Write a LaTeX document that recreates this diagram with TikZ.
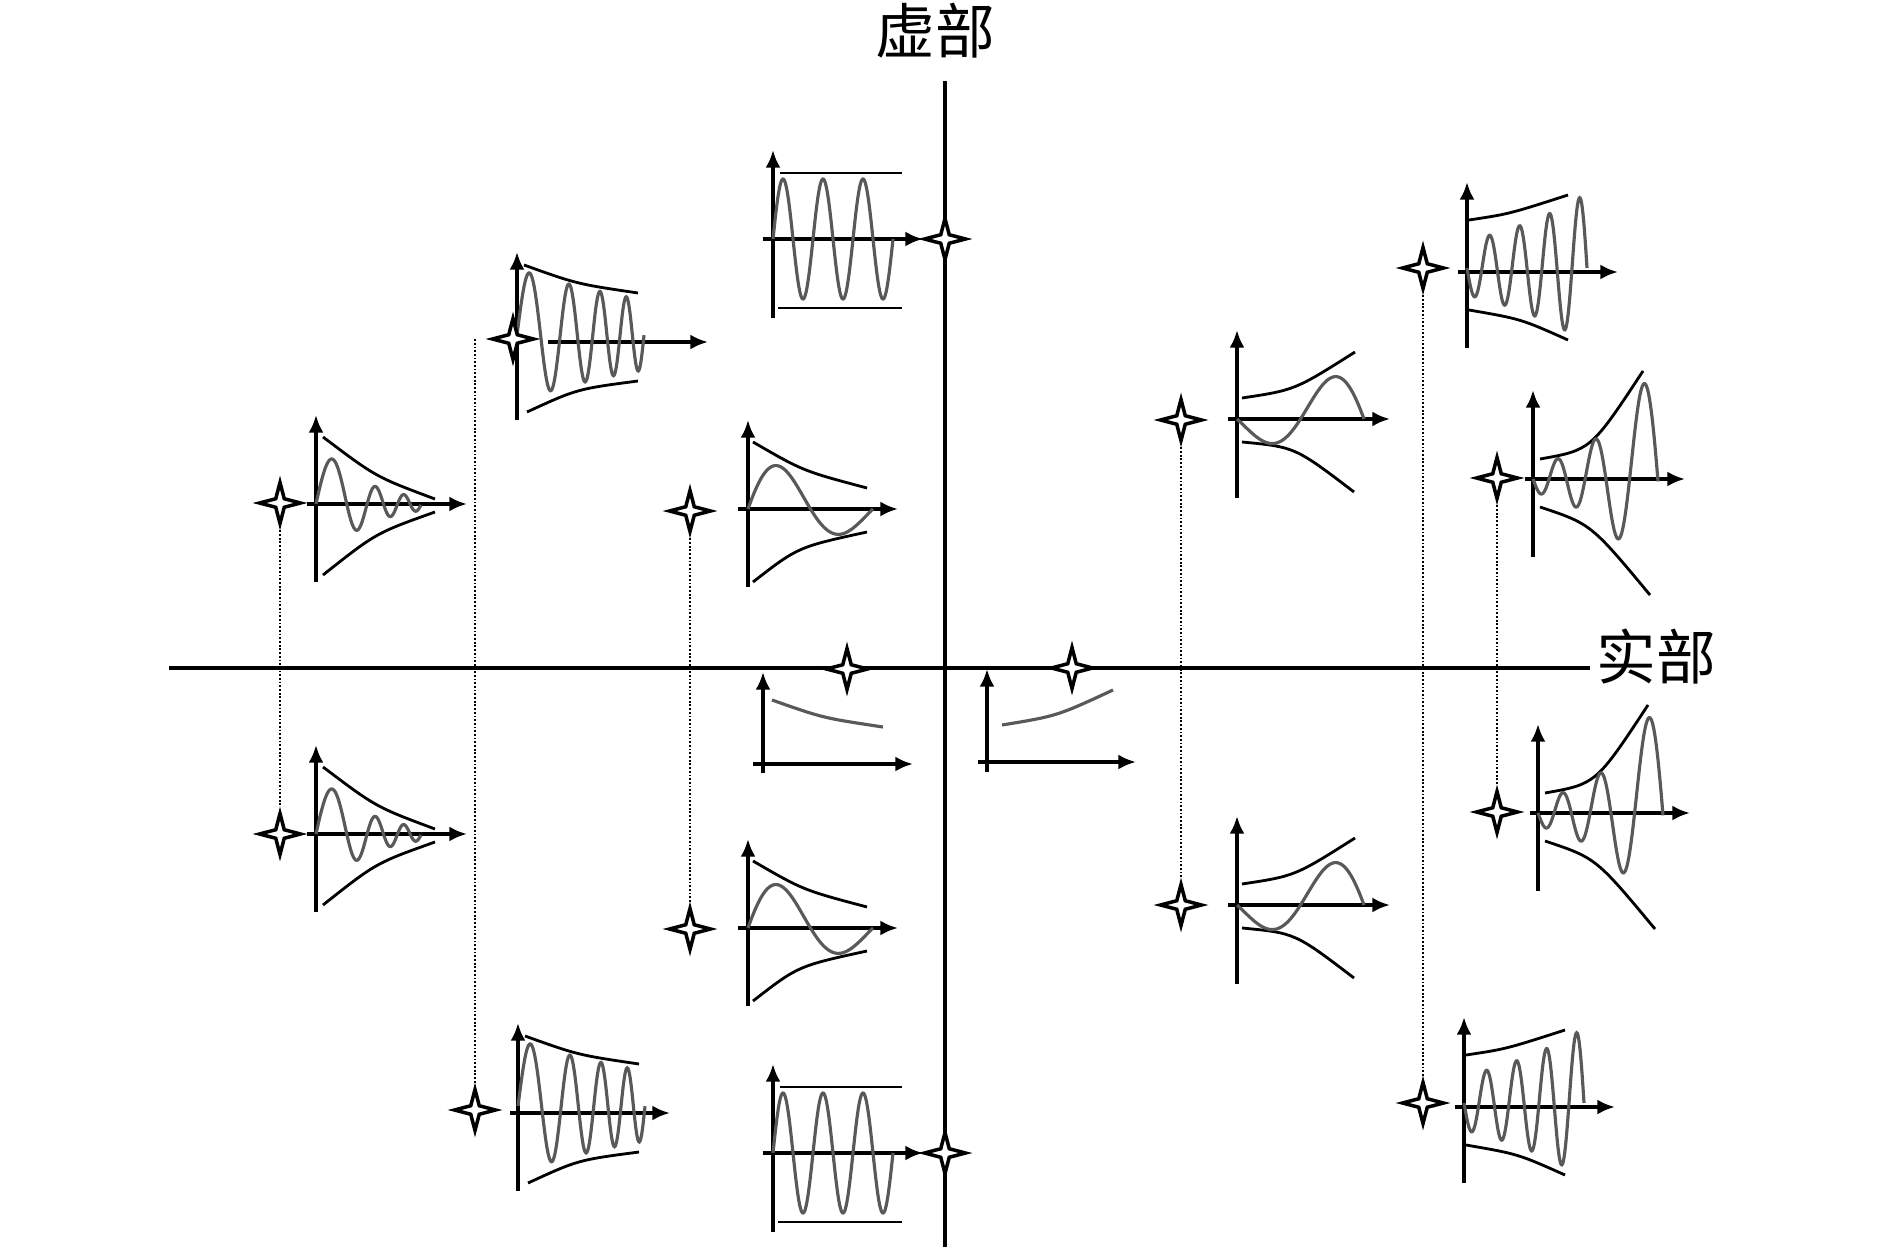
\documentclass[tikz,border=0pt]{standalone}
\usepackage{fontspec}
\newfontfamily\cjk{Noto Sans CJK SC}
\usetikzlibrary{shapes.geometric, arrows.meta}

\begin{document}
\begin{tikzpicture}[x=0.02cm, y=-0.02cm,%
  axisline/.style={line width=1.8pt},%
  ax/.style={line width=2.2pt, -{Latex[length=10pt,width=8.5pt]}},%
  env/.style={line width=1.6pt},%
  wave/.style={line width=1.8pt, draw=black!65},%
  pole/.style={star, star points=4, star point ratio=3.4, draw, line width=2pt, fill=white, minimum size=0.82cm, inner sep=0pt},%
  link/.style={line width=1pt, dash pattern=on 1pt off 1.1pt},%
  lbl/.style={font=\cjk\fontsize{34}{34}\selectfont}%
]
  \useasboundingbox (0,0) rectangle (1889,1253);
  % Achsen
  \node[lbl] (imlab) at (935,31) {虚部};
  \node[lbl] (relab) at (1656,657) {实部};
  \coordinate (reorg) at (169,668);
  \coordinate (imtop) at (945,81);
  \coordinate (imorg) at (945,1247);
  \draw[axisline] (reorg) -- (reorg -| relab.west);
  \draw[axisline] (imtop) -- (imorg);
  % links, stark gedaempft
  \foreach \oy in {504,834} {
    \begin{scope}[shift={(316,\oy)}, yscale=-1]
      \draw[ax] (0,-78) -- (0,89);
      \draw[ax] (-9,0) -- (151,0);
      \draw[env] (7,67) .. controls (60,27) .. (119,5);
      \draw[env] (7,-71) .. controls (60,-29) .. (119,-8);
      \draw[wave] plot[domain=0:105, samples=160, variable=\t] (\t, {65*exp(-0.022*\t)*sin(4.05*\t+0.0586*\t*\t)});
    \end{scope}
  }
  % links, schwach gedaempft
  \foreach \ox/\oy/\xs in {517/342/31, 518/1113/-8} {
    \begin{scope}[shift={(\ox,\oy)}, yscale=-1]
      \draw[ax] (0,-78) -- (0,90);
      \draw[ax] (\xs,0) -- (\xs+160,0);
      \draw[env] (7,77) .. controls (60,58) .. (121,49);
      \draw[env] (10,-70) .. controls (60,-47) .. (121,-39);
      \draw[wave] plot[domain=0:127, samples=180, variable=\t] (\t, {7+66*exp(-0.005*\t)*sin(6.79*\t+0.0358*\t*\t)});
    \end{scope}
  }
  % Mitte links
  \foreach \oy in {509,928} {
    \begin{scope}[shift={(748,\oy)}, yscale=-1]
      \draw[ax] (0,-78) -- (0,89);
      \draw[ax] (-10,0) -- (150,0);
      \draw[env] (5,67) .. controls (55,38) .. (119,21);
      \draw[env] (5,-73) .. controls (50,-38) .. (119,-23);
      \draw[wave] plot[domain=0:125, samples=120, variable=\t] (\t, {56*exp(-0.0086*\t)*sin(2.88*\t)});
    \end{scope}
  }
  % reelle Pole
  \begin{scope}[shift={(763,764)}, yscale=-1]
    \draw[ax] (0,-9) -- (0,92);
    \draw[ax] (-10,0) -- (150,0);
    \draw[wave] (9,64) .. controls (60,46) .. (120,37);
  \end{scope}
  \begin{scope}[shift={(987,762)}, yscale=-1]
    \draw[ax] (0,-10) -- (0,93);
    \draw[ax] (-9,0) -- (149,0);
    \draw[wave] (15,37) .. controls (70,46) .. (126,72);
  \end{scope}
  % imaginaere Achse
  \foreach \oy in {239,1153} {
    \begin{scope}[shift={(773,\oy)}, yscale=-1]
      \draw[ax] (0,-79) -- (0,89);
      \draw[ax] (-10,0) -- (150,0);
      \draw[env] (7,66) -- (129,66);
      \draw[env] (5,-69) -- (129,-69);
      \draw[wave] plot[domain=0:120, samples=160, variable=\t] (\t, {60*sin(9*\t)});
    \end{scope}
  }
  % rechts, instabil
  \foreach \oy in {419,905} {
    \begin{scope}[shift={(1237,\oy)}, yscale=-1]
      \draw[ax] (0,-79) -- (0,89);
      \draw[ax] (-9,0) -- (153,0);
      \draw[env] (5,21) .. controls (58,29) .. (118,67);
      \draw[env] (5,-23) .. controls (58,-28) .. (117,-73);
      \draw[wave] plot[domain=0:127, samples=120, variable=\t] (\t, {-18.4*exp(0.0086*\t)*sin(2.835*\t)});
    \end{scope}
  }
  \foreach \ox/\oy in {1467/272, 1464/1107} {
    \begin{scope}[shift={(\ox,\oy)}, yscale=-1]
      \draw[ax] (0,-76) -- (0,90);
      \draw[ax] (-9,0) -- (151,0);
      \draw[env] (2,52) .. controls (42,58) .. (101,77);
      \draw[env] (2,-38) .. controls (54,-47) .. (101,-68);
      \draw[wave] plot[domain=0:120, samples=180, variable=\t] (\t, {4-27*exp(0.0085*\t)*sin(12*\t)});
    \end{scope}
  }
  \foreach \ox/\oy in {1533/479, 1538/813} {
    \begin{scope}[shift={(\ox,\oy)}, yscale=-1]
      \draw[ax] (0,-78) -- (0,89);
      \draw[ax] (-8,0) -- (152,0);
      \draw[env] (7,20) .. controls (58,29) .. (110,108);
      \draw[env] (7,-28) .. controls (58,-45) .. (117,-116);
      \draw[wave] plot[domain=0:125, samples=180, variable=\t] (\t, {-13*exp(0.018*\t)*sin(11.59*\t-0.02353*\t*\t)});
    \end{scope}
  }
  % Pole
  \node[pole] (s1) at (280,503) {};
  \node[pole] (s2) at (280,834) {};
  \node[pole] (s3) at (513,339) {};
  \node[pole] (s4) at (475,1110) {};
  \node[pole] (s5) at (690,511) {};
  \node[pole] (s6) at (690,929) {};
  \node[pole] (s7) at (847,669) {};
  \node[pole] (s8) at (945,239) {};
  \node[pole] (s9) at (945,1153) {};
  \node[pole] (s10) at (1072,668) {};
  \node[pole] (s11) at (1181,420) {};
  \node[pole] (s12) at (1181,905) {};
  \node[pole] (s13) at (1423,268) {};
  \node[pole] (s14) at (1423,1103) {};
  \node[pole] (s15) at (1497,478) {};
  \node[pole] (s16) at (1497,812) {};
  \draw[link] (s1) -- (s2);
  \draw[link] (s4) -- (s4 |- s3);
  \draw[link] (s5) -- (s6);
  \draw[link] (s11) -- (s12);
  \draw[link] (s13) -- (s14);
  \draw[link] (s15) -- (s16);
\end{tikzpicture}
\end{document}
